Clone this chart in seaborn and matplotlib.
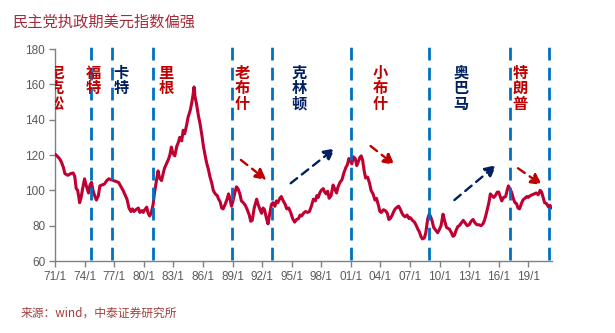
import matplotlib
matplotlib.use("Agg")
import matplotlib.pyplot as plt
import seaborn as sns
import pandas as pd

# ---------------- data ----------------
years = [1971.0, 1971.2, 1971.45, 1971.65, 1971.85, 1972.0, 1972.3, 1972.6, 1972.85, 1973.0,
         1973.15, 1973.3, 1973.5, 1973.65, 1973.8, 1974.0, 1974.15, 1974.4, 1974.55, 1974.7,
         1974.85, 1975.05, 1975.2, 1975.4, 1975.55, 1975.75, 1976.0, 1976.25, 1976.45, 1976.7,
         1976.95, 1977.2, 1977.45, 1977.7, 1977.9, 1978.1, 1978.3, 1978.5, 1978.7, 1978.85,
         1979.0, 1979.2, 1979.45, 1979.6, 1979.8, 1979.95, 1980.1, 1980.3, 1980.45, 1980.6,
         1980.75, 1980.95, 1981.1, 1981.3, 1981.45, 1981.6, 1981.8, 1981.95, 1982.1, 1982.3,
         1982.5, 1982.65, 1982.8, 1982.95, 1983.15, 1983.35, 1983.5, 1983.65, 1983.85, 1984.0,
         1984.15, 1984.35, 1984.5, 1984.7, 1984.85, 1985.0, 1985.1, 1985.2, 1985.35, 1985.55,
         1985.7, 1985.9, 1986.05, 1986.25, 1986.4, 1986.55, 1986.7, 1986.9, 1987.05, 1987.25,
         1987.45, 1987.6, 1987.75, 1987.9, 1988.05, 1988.25, 1988.45, 1988.6, 1988.75, 1988.9,
         1989.05, 1989.25, 1989.4, 1989.55, 1989.75, 1989.9, 1990.1, 1990.3, 1990.5, 1990.7,
         1990.85, 1991.0, 1991.2, 1991.45, 1991.6, 1991.8, 1991.95, 1992.1, 1992.25, 1992.45,
         1992.6, 1992.75, 1992.95, 1993.1, 1993.3, 1993.45, 1993.6, 1993.8, 1993.95, 1994.15,
         1994.35, 1994.5, 1994.7, 1994.9, 1995.1, 1995.3, 1995.5, 1995.7, 1995.85, 1996.0,
         1996.2, 1996.4, 1996.6, 1996.8, 1997.0, 1997.2, 1997.4, 1997.55, 1997.7, 1997.85,
         1998.0, 1998.2, 1998.35, 1998.5, 1998.65, 1998.8, 1999.0, 1999.2, 1999.35, 1999.55,
         1999.7, 1999.9, 2000.1, 2000.3, 2000.5, 2000.65, 2000.8, 2000.95, 2001.1, 2001.25,
         2001.45, 2001.6, 2001.75, 2001.9, 2002.05, 2002.2, 2002.35, 2002.5, 2002.7, 2002.9,
         2003.05, 2003.25, 2003.45, 2003.6, 2003.8, 2003.95, 2004.1, 2004.3, 2004.5, 2004.7,
         2004.85, 2005.0, 2005.2, 2005.35, 2005.5, 2005.7, 2005.85, 2006.0, 2006.15, 2006.3,
         2006.5, 2006.7, 2006.9, 2007.05, 2007.25, 2007.45, 2007.6, 2007.8, 2007.95, 2008.1,
         2008.25, 2008.45, 2008.6, 2008.8, 2008.95, 2009.1, 2009.25, 2009.4, 2009.6, 2009.8,
         2009.95, 2010.15, 2010.35, 2010.5, 2010.7, 2010.85, 2011.0, 2011.2, 2011.35, 2011.5,
         2011.65, 2011.85, 2012.0, 2012.2, 2012.4, 2012.6, 2012.8, 2013.0, 2013.2, 2013.4,
         2013.6, 2013.8, 2014.0, 2014.2, 2014.4, 2014.55, 2014.7, 2014.85, 2015.0, 2015.15,
         2015.3, 2015.5, 2015.65, 2015.85, 2016.0, 2016.15, 2016.3, 2016.5, 2016.7, 2016.85,
         2016.98, 2017.15, 2017.3, 2017.5, 2017.65, 2017.8, 2017.95, 2018.1, 2018.3, 2018.45,
         2018.65, 2018.85, 2019.0, 2019.2, 2019.4, 2019.6, 2019.8, 2020.0, 2020.2, 2020.35,
         2020.5, 2020.65, 2020.85, 2021.05, 2021.2, 2021.35]
dxy = [120.5, 119.5, 118, 116, 113, 109.5, 108.5, 109.5, 109.8, 108,
       101, 100, 93, 96, 101, 106.5, 103, 98.5, 103, 104.5,
       100, 96.5, 94.5, 97, 102.5, 103, 103.5, 105.5, 106.5, 106,
       105.5, 105, 104.5, 102, 100, 97.5, 95, 90, 88, 89.5,
       88, 89, 90, 87.5, 88.5, 87.5, 89, 90.5, 87, 85.5,
       87, 92, 99, 106, 111, 107, 105.5, 109, 112.5, 115,
       117.5, 120, 124.5, 121, 119.5, 125, 127, 130, 128, 134,
       132, 137, 141.5, 145, 149, 154, 158.5, 153, 149, 142,
       138, 131, 125, 119, 115, 112, 108, 104, 100, 98,
       97, 95, 93.5, 90, 89.5, 92, 95, 98, 95, 91,
       94, 99, 102, 101, 98, 94, 93, 91.5, 89, 86,
       82.5, 83, 90, 95, 92, 89, 87, 90, 89, 84,
       81, 86, 92, 93, 91, 94, 93, 95.5, 96.5, 94,
       92, 89.5, 90, 87.5, 84, 82, 83.5, 84, 86, 85.5,
       87, 88, 87.5, 88, 91, 95, 94, 97, 96, 98.5,
       100, 101, 99, 98, 99.5, 95.5, 97, 103, 101, 98.5,
       102, 104.5, 106, 110, 113, 114.5, 118, 117, 115, 119,
       118, 114, 116, 118.5, 119.5, 117, 111, 107, 107.5, 104,
       100, 98, 94.5, 95.5, 91.5, 88, 87.5, 89, 88.5, 87,
       83.5, 84, 86, 88, 89.5, 90.5, 91, 89.5, 87.5, 86,
       85, 86, 84, 84.5, 83, 82, 80.5, 78, 76.5, 74,
       72.5, 73, 76, 84, 86.5, 85, 82.5, 79, 77.5, 76,
       77.5, 80, 86.5, 83, 79, 78.5, 78, 76, 74, 74.5,
       77, 79.5, 80, 81.5, 83, 81.5, 80, 80.5, 82.5, 83.5,
       81.5, 80.5, 80.5, 80, 81, 83, 86, 89.5, 93, 98,
       97, 96, 97, 99, 99, 96.5, 94, 96, 96.5, 100,
       102.5, 100.5, 99, 95, 93, 92.5, 90, 89.5, 92.5, 94.5,
       95.5, 96.5, 96, 97, 97.5, 98, 98.5, 97.5, 100, 99,
       96, 93, 92.5, 90.5, 91.5, 90]

# presidents: term boundaries, labels, party colour
term_starts = [1974.6, 1976.75, 1980.9, 1988.9, 1993.0, 2001.0, 2008.9, 2017.1, 2021.1]
pres_names = ["尼克松", "福特", "卡特", "里根", "老布什", "克林顿", "小布什", "奥巴马", "特朗普"]
pres_x = [1971.15, 1974.85, 1977.7, 1982.25, 1989.95, 1995.75, 2004.0, 2012.15, 2018.2]
pres_party = ["R", "R", "D", "R", "R", "D", "R", "D", "R"]

# trend arrows: (x0, y0, x1, y1, party)
arrow_x0 = [1989.85, 1994.9, 2003.0, 2011.5, 2017.95]
arrow_y0 = [117.2, 104.0, 125.1, 94.5, 112.5]
arrow_x1 = [1992.45, 1999.4, 2005.45, 2015.75, 2020.4]
arrow_y1 = [105.8, 123.8, 114.3, 114.3, 103.0]
arrow_party = ["R", "D", "R", "D", "R"]

tick_years = list(range(1971, 2020, 3))
tick_labels = [f"{y % 100:02d}/1" for y in tick_years]
y_ticks = [60, 80, 100, 120, 140, 160, 180]

title = "民主党执政期美元指数偏强"
source = "来源：wind，中泰证券研究所"

# ---------------- style ----------------
sns.set_theme(style="white")
plt.rcParams["font.family"] = ["Liberation Sans", "Noto Sans CJK SC", "DejaVu Sans"]

RED = "#C00000"
NAVY = "#002060"
LINE = "#BE0033"
BLUE = "#0070C0"
GREY_TXT = "#595959"
party_col = {"R": RED, "D": NAVY}

fig = plt.figure(figsize=(6.15, 3.33), dpi=100)
ax = fig.add_axes([55 / 615, 1 - 261 / 333, (552 - 55) / 615, (261 - 49) / 333])

df = pd.DataFrame({"year": years, "dxy": dxy})
sns.lineplot(data=df, x="year", y="dxy", ax=ax, color=LINE, lw=2.2, zorder=3)

ax.set_xlim(1971.0, 2021.4)
ax.set_ylim(60, 180)
ax.set_xticks(tick_years)
ax.set_xticklabels(tick_labels)
ax.set_yticks(y_ticks)
ax.set_xlabel("")
ax.set_ylabel("")

for s in ["top", "right"]:
    ax.spines[s].set_visible(False)
for s in ["left", "bottom"]:
    ax.spines[s].set_color("#808080")
    ax.spines[s].set_linewidth(1.0)
ax.tick_params(axis="both", which="both", direction="out", length=4, width=1,
               color="#808080", labelcolor=GREY_TXT, labelsize=8.5, pad=3)
ax.tick_params(axis="x", bottom=True)
ax.tick_params(axis="y", left=True)

# term boundary lines
for xs in term_starts:
    ax.plot([xs, xs], [60.8, 181.5], color=BLUE, lw=2.0,
            linestyle=(0, (4.6, 2.6)), clip_on=False, zorder=4)

# president names (vertical)
for name, xp, party in zip(pres_names, pres_x, pres_party):
    ax.text(xp, 171, "\n".join(name), ha="center", va="top", fontsize=11,
            fontweight="bold", color=party_col[party], linespacing=0.95,
            family=["Noto Sans CJK SC", "DejaVu Sans"], clip_on=True, zorder=5)

# trend arrows
for x0, y0, x1, y1, party in zip(arrow_x0, arrow_y0, arrow_x1, arrow_y1, arrow_party):
    ax.annotate("", xy=(x1, y1), xytext=(x0, y0),
                arrowprops=dict(arrowstyle="-|>,head_length=0.55,head_width=0.28",
                                color=party_col[party], lw=1.7,
                                linestyle=(0, (3.5, 2.5)), shrinkA=0, shrinkB=0),
                zorder=5)

fig.text(13 / 615, 1 - 22 / 333, title, ha="left", va="center", fontsize=11,
         color="#A52A3A", family=["Noto Sans CJK SC", "DejaVu Sans"])
fig.text(21 / 615, 1 - 313 / 333, source, ha="left", va="center", fontsize=8.5,
         color="#A0403C", family=["Noto Sans CJK SC", "DejaVu Sans"])

fig.savefig("out.png", dpi=100)
